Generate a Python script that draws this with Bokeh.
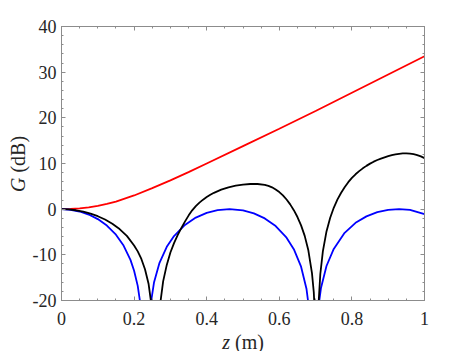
from bokeh.plotting import figure
from bokeh.models import LinearAxis, SingleIntervalTicker, Range1d, Title
from bokeh.embed import file_html
from bokeh.resources import INLINE

# ---- data ----
z_red = [0, 0.025, 0.05, 0.075, 0.1, 0.125, 0.15, 0.2, 0.25, 0.3, 0.35, 0.4, 0.5, 0.6, 0.7, 0.8, 0.9, 1.0]
g_red = [0, 0.04, 0.17, 0.4, 0.72, 1.15, 1.65, 3.0, 4.6, 6.3, 8.1, 10.0, 13.8, 17.6, 21.5, 25.5, 29.5, 33.5]

z_blue = [0, 0.025, 0.05, 0.075, 0.1, 0.125, 0.15, 0.17, 0.19, 0.2, 0.21, 0.22, 0.2315,
          0.243, 0.255, 0.27, 0.29, 0.31, 0.34, 0.37, 0.40, 0.43, 0.463, 0.50, 0.53, 0.56,
          0.59, 0.62, 0.64, 0.66, 0.675, 0.685, 0.6945, 0.705, 0.715, 0.73, 0.75, 0.78,
          0.81, 0.84, 0.87, 0.90, 0.93, 0.96, 1.0]
g_blue = [0, -0.13, -0.51, -1.18, -2.17, -3.59, -5.58, -7.83, -11.1, -13.5, -16.8, -22.2, -40,
          -22.2, -16.0, -11.75, -8.24, -5.89, -3.46, -1.85, -0.81, -0.22, 0, -0.28, -0.92, -2.02,
          -3.70, -6.24, -8.77, -12.6, -17.5, -23.7, -40, -23.0, -17.2, -12.45, -8.71, -5.18,
          -2.99, -1.58, -0.66, -0.14, 0, -0.16, -1.11]

z_black = [0, 0.02, 0.04, 0.06, 0.08, 0.10, 0.12, 0.14, 0.16, 0.18, 0.20, 0.21, 0.22, 0.23,
           0.24, 0.25, 0.26, 0.27, 0.28, 0.29, 0.30, 0.31, 0.32, 0.33, 0.34, 0.35, 0.36, 0.37,
           0.38, 0.39, 0.40, 0.41, 0.42, 0.44, 0.46, 0.48, 0.50, 0.52, 0.54, 0.56, 0.57, 0.58,
           0.59, 0.60, 0.61, 0.62, 0.63, 0.64, 0.65, 0.66, 0.67, 0.68, 0.69, 0.695, 0.70, 0.7035,
           0.708, 0.713, 0.72, 0.73, 0.74, 0.75, 0.76, 0.77, 0.78, 0.79, 0.80, 0.81, 0.82, 0.83,
           0.84, 0.85, 0.86, 0.87, 0.88, 0.89, 0.90, 0.91, 0.92, 0.93, 0.94, 0.95, 0.96, 0.97,
           0.98, 0.99, 1.0]
g_black = [0, -0.06, -0.24, -0.54, -0.96, -1.54, -2.27, -3.20, -4.36, -5.85, -7.96, -9.24, -10.9, -13.15,
           -16.4, -22.3, -40, -21.9, -15.8, -12.2, -9.5, -7.43, -5.68, -4.15, -2.73, -1.41, -0.26, 0.67,
           1.44, 2.08, 2.64, 3.14, 3.58, 4.27, 4.79, 5.15, 5.39, 5.51, 5.51, 5.34, 5.11, 4.79,
           4.32, 3.75, 3.02, 2.11, 1.05, -0.22, -1.72, -3.54, -5.85, -9.0, -14.0, -18.2, -26.6, -40,
           -20.9, -14.2, -9.24, -4.88, -1.94, 0.3, 2.08, 3.55, 4.81, 5.91, 6.85, 7.64, 8.33, 8.94,
           9.48, 9.97, 10.4, 10.76, 11.08, 11.36, 11.62, 11.82, 12.0, 12.13, 12.21, 12.23, 12.17, 12.04,
           11.84, 11.55, 11.17]

x_ticks = [0, 0.2, 0.4, 0.6, 0.8, 1]
x_tick_labels = ["0", "0.2", "0.4", "0.6", "0.8", "1"]
y_ticks = [-20, -10, 0, 10, 20, 30, 40]
y_tick_labels = ["-20", "-10", "0", "10", "20", "30", "40"]

FONT = "Liberation Serif"
AX = "#8c8c8c"
TXT = "#262626"

p = figure(frame_width=363, frame_height=274,
           x_range=Range1d(0, 1), y_range=Range1d(-20, 40),
           output_backend="svg", toolbar_location=None,
           x_axis_location=None, y_axis_location=None,
           min_border_left=61, min_border_right=44, min_border_top=26, min_border_bottom=51)
p.xgrid.visible = False
p.ygrid.visible = False
p.outline_line_color = AX
p.background_fill_color = "white"
p.border_fill_color = "white"


def style(ax, ticker, labels=None, show=True, standoff=6):
    ax.ticker = ticker
    ax.axis_line_color = AX
    ax.major_tick_line_color = AX
    ax.minor_tick_line_color = AX
    ax.major_tick_in = 4
    ax.major_tick_out = 0
    ax.minor_tick_in = 2
    ax.minor_tick_out = 0
    if show:
        ax.major_label_text_font = FONT
        ax.major_label_text_font_size = "18px"
        ax.major_label_text_color = TXT
        ax.major_label_standoff = standoff
        if labels:
            ax.major_label_overrides = labels
    else:
        ax.major_label_text_font_size = "0px"
        ax.major_label_text_color = None


def spacer(size, interval):
    # an empty axis whose (white, invisible) outer ticks only reserve room
    return LinearAxis(ticker=SingleIntervalTicker(interval=interval, num_minor_ticks=0),
                      axis_line_color=None, major_tick_line_color="white",
                      minor_tick_line_color=None, major_tick_out=size, minor_tick_out=0,
                      major_tick_in=0, minor_tick_in=0,
                      major_label_text_font_size="0px", major_label_text_color=None,
                      major_label_standoff=0)


xl = {t: s for t, s in zip(x_ticks, x_tick_labels)}
yl = {t: s for t, s in zip(y_ticks, y_tick_labels)}

bx = LinearAxis()
style(bx, SingleIntervalTicker(interval=0.2, num_minor_ticks=4), xl, True, 11)
p.add_layout(bx, "below")
tx = LinearAxis()
style(tx, SingleIntervalTicker(interval=0.2, num_minor_ticks=4), show=False)
p.add_layout(tx, "above")
ly = LinearAxis()
style(ly, SingleIntervalTicker(interval=10, num_minor_ticks=5), yl, True, 5)
p.add_layout(ly, "left")
ry = LinearAxis()
style(ry, SingleIntervalTicker(interval=10, num_minor_ticks=5), show=False)
p.add_layout(ry, "right")

p.add_layout(spacer(14, 0.2), "below")
p.add_layout(spacer(12, 10), "left")

p.line(z_red, g_red, line_color="#ff0000", line_width=1.8)
p.line(z_blue, g_blue, line_color="#0000ff", line_width=1.8)
p.line(z_black, g_black, line_color="black", line_width=1.8)


def title(text, italic, offset):
    return Title(text=text, text_font=FONT, text_font_size="20px", text_color=TXT,
                 text_font_style="italic" if italic else "normal",
                 align="left", vertical_align="middle", offset=offset, standoff=-24)


# axis titles: italic variable + upright unit
p.add_layout(title("z", True, 160.7), "below")
p.add_layout(title("(m)", False, 173.5), "below")
p.add_layout(title("G", True, 108.5), "left")
p.add_layout(title("(dB)", False, 127.9), "left")

open("out.html", "w").write(file_html(p, INLINE))
